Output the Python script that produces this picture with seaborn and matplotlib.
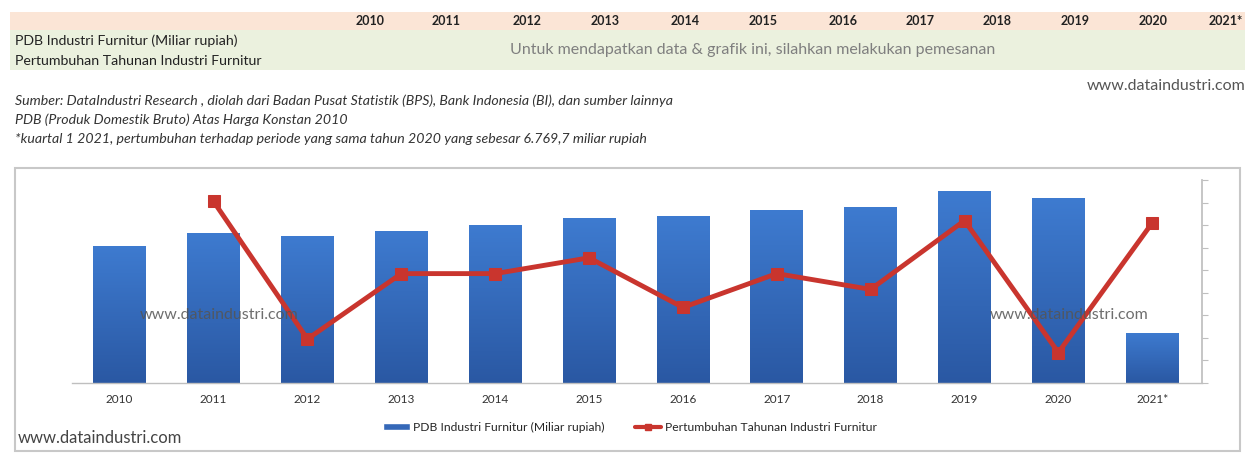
import numpy as np
import pandas as pd
import matplotlib
matplotlib.use("Agg")
import matplotlib.pyplot as plt
from matplotlib.patches import Rectangle
from matplotlib.lines import Line2D
from matplotlib.colors import LinearSegmentedColormap
import seaborn as sns

years = ["2010", "2011", "2012", "2013", "2014", "2015", "2016", "2017", "2018", "2019", "2020", "2021*"]
pdb = [18900, 20700, 20300, 21000, 21800, 22750, 23000, 23850, 24300, 26500, 25500, 6900]
growth = [np.nan, 10.1, -2.1, 3.7, 3.7, 5.1, 0.7, 3.7, 2.3, 8.4, -3.3, 8.2]
header_years = years
row_labels = ["PDB Industri Furnitur (Miliar rupiah)", "Pertumbuhan Tahunan Industri Furnitur"]
notice = "Untuk mendapatkan data & grafik ini, silahkan melakukan pemesanan"
source_lines = [
    "Sumber: DataIndustri Research , diolah dari Badan Pusat Statistik (BPS), Bank Indonesia (BI), dan sumber lainnya",
    "PDB (Produk Domestik Bruto) Atas Harga Konstan 2010",
    "*kuartal 1 2021, pertumbuhan terhadap periode yang sama tahun 2020 yang sebesar 6.769,7 miliar rupiah",
]
watermark = "www.dataindustri.com"

sns.set_theme(style="white")
plt.rcParams["font.family"] = ["Lato", "DejaVu Sans"]

W, H = 1245, 455
fig = plt.figure(figsize=(W / 100, H / 100), dpi=100)
fig.patch.set_facecolor("white")

def fx(x):
    return x / W

def fy(y):
    return 1 - y / H

# Table bands
fig.patches.append(Rectangle((fx(10), fy(30)), fx(1235), (30 - 12) / H, transform=fig.transFigure,
                             facecolor="#FBE5D6", edgecolor="none", zorder=-2))
fig.patches.append(Rectangle((fx(10), fy(70)), fx(1235), (70 - 30) / H, transform=fig.transFigure,
                             facecolor="#EBF1DE", edgecolor="none", zorder=-2))
header_x = [370, 446, 527, 605, 685, 763, 843, 920, 997, 1075, 1153, 1226]
for hx, yr in zip(header_x, header_years):
    fig.text(fx(hx), fy(21), yr, ha="center", va="center", fontsize=9, fontweight="bold", color="#222222")
fig.text(fx(15), fy(41), row_labels[0], ha="left", va="center", fontsize=10.2, color="#222222")
fig.text(fx(15), fy(61), row_labels[1], ha="left", va="center", fontsize=10.2, color="#222222")
fig.text(fx(753), fy(50), notice, ha="center", va="center", fontsize=11.5, color="#7f7f7f")
fig.text(fx(1245), fy(86), watermark, ha="right", va="center", fontsize=11.5, color="#555555")
for i, line in enumerate(source_lines):
    fig.text(fx(15), fy(101 + i * 19), line, ha="left", va="center", fontsize=10.2, style="italic", color="#333333")

# Chart frame
fig.patches.append(Rectangle((fx(15), fy(451)), fx(1225), (451 - 168) / H, transform=fig.transFigure,
                             facecolor="white", edgecolor="#c8c8c8", linewidth=1.5, zorder=-1))

XL = (-0.508, 11.53)
ax = fig.add_axes([fx(72), fy(383), fx(1202 - 72), (383 - 180) / H])
ax.set_facecolor("none")
df = pd.DataFrame({"year": years, "pdb": pdb})
sns.barplot(data=df, x="year", y="pdb", color="#3568B8", width=0.56, ax=ax, zorder=2)

# gradient fill for bars
cmap = LinearSegmentedColormap.from_list("bargrad", ["#2A58A3", "#3E7BD0"])
grad = np.linspace(0, 1, 256).reshape(-1, 1)
for p in list(ax.patches):
    x0, w, h = p.get_x(), p.get_width(), p.get_height()
    im = ax.imshow(grad, cmap=cmap, aspect="auto", origin="lower",
                   extent=[x0, x0 + w, 0, h], zorder=2.1)
    im.set_clip_path(p)
ax.set_xlim(*XL)
ax.set_ylim(0, 28000)

ax.set_xlabel("")
ax.set_ylabel("")
ax.set_yticks([])
for s in ["top", "left", "right"]:
    ax.spines[s].set_visible(False)
ax.spines["bottom"].set_color("#bfbfbf")
ax.spines["bottom"].set_linewidth(1)
ax.tick_params(axis="x", length=0, pad=8, labelsize=8.5, labelcolor="#333333")

ax2 = ax.twinx()
gdf = pd.DataFrame({"idx": np.arange(len(years)), "growth": growth}).dropna()
sns.lineplot(data=gdf, x="idx", y="growth", ax=ax2, color="#C9352E", linewidth=3.5,
             marker="s", markersize=8, markeredgecolor="#C9352E", zorder=5)
ax2.set_ylim(-6, 12)
ax2.set_yticks(np.arange(-6, 13, 2))
ax2.set_yticklabels([])
ax2.set_xlim(*XL)
ax2.set_xlabel("")
ax2.set_ylabel("")
for s in ["top", "left", "bottom"]:
    ax2.spines[s].set_visible(False)
ax2.spines["right"].set_color("#bfbfbf")
ax2.tick_params(axis="y", length=4, width=0.8, color="#bfbfbf", direction="out")

# in-chart watermarks
fig.text(fx(140), fy(315), watermark, ha="left", va="center", fontsize=11.5, color="#555555", alpha=0.85, zorder=10)
fig.text(fx(990), fy(315), watermark, ha="left", va="center", fontsize=11.5, color="#555555", alpha=0.85, zorder=10)
fig.text(fx(18), fy(438), watermark, ha="left", va="center", fontsize=12, color="#444444")

# legend
handles = [Rectangle((0, 0), 1, 1, facecolor="#3568B8"),
           Line2D([0], [0], color="#C9352E", linewidth=3, marker="s", markersize=5)]
fig.legend(handles, row_labels, loc="center", bbox_to_anchor=(fx(630), fy(427)), ncol=2,
           frameon=False, fontsize=8.7, handlelength=2.2, handleheight=0.5, columnspacing=2.5,
           handletextpad=0.3)

fig.savefig("out.png", dpi=100)
